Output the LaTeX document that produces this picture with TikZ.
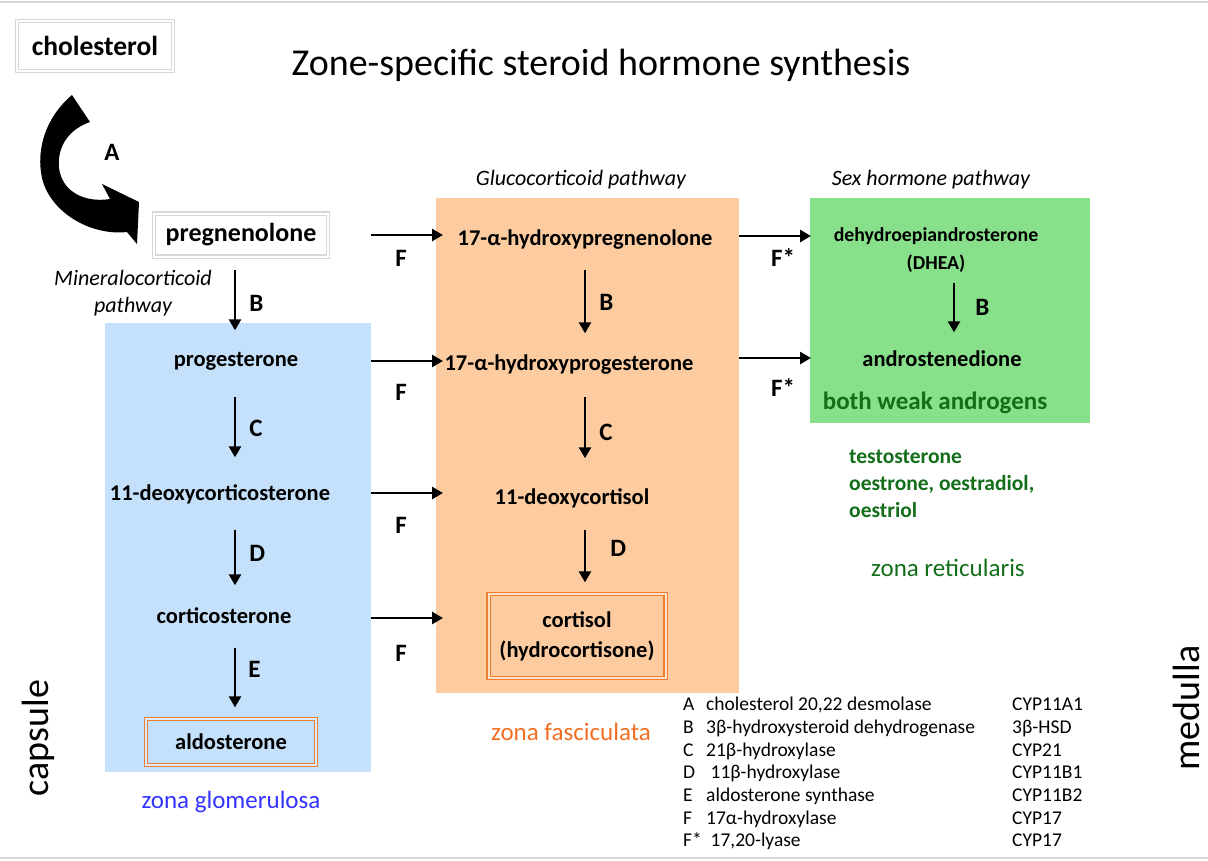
\documentclass[tikz,border=0pt]{standalone}
\usepackage{fontspec}
\setmainfont{Carlito}
\usetikzlibrary{positioning,arrows.meta}

\definecolor{glomblue}{RGB}{197,224,251}
\definecolor{fascorange}{RGB}{252,204,160}
\definecolor{retgreen}{RGB}{137,224,139}
\definecolor{boxorange}{RGB}{237,125,49}
\definecolor{labelorange}{RGB}{242,110,35}
\definecolor{labelblue}{RGB}{51,51,255}
\definecolor{darkgreen}{RGB}{18,110,24}
\definecolor{rulegrey}{RGB}{215,215,215}

\tikzset{
  compound/.style={font=\fontsize{22.5}{27}\selectfont\bfseries, inner sep=0pt,
    text height=16pt, text depth=5pt},
  enzyme/.style={font=\fontsize{25}{30}\selectfont\bfseries, inner sep=0pt},
  arr/.style={line width=2.6pt, -{Triangle[length=11pt,width=12pt]}},
  zone/.style={anchor=north west, inner sep=0pt},
  greybox/.style={draw=rulegrey, double=white, double distance=2pt, line width=1.2pt,
    font=\fontsize{26}{30}\selectfont\bfseries},
  orangebox/.style={draw=boxorange, double=white!40!glomblue, double distance=2pt,
    line width=1.3pt, font=\fontsize{22.5}{30}\selectfont\bfseries, align=center},
  pathway/.style={font=\fontsize{22}{27}\selectfont\itshape, align=center},
  zonelabel/.style={font=\fontsize{25}{30}\selectfont},
  sidelabel/.style={font=\fontsize{38}{44}\selectfont, rotate=90, anchor=south,
    inner sep=0pt, text depth=0pt},
  legend/.style={font=\fontsize{19.5}{22}\selectfont, anchor=base west, inner sep=0pt}
}

\begin{document}
\begin{tikzpicture}[x=1pt, y=-1pt]
  \useasboundingbox (0,0) rectangle (1208,860);
  \draw[rulegrey, line width=2pt] (0,1.5) -- (1208,1.5);
  \draw[rulegrey, line width=2pt] (0,857.5) -- (1208,857.5);

  % zones
  \node[zone, fill=glomblue, minimum width=266pt, minimum height=449pt] (zg) at (105,323) {};
  \node[zone, fill=fascorange, minimum width=303pt, minimum height=495pt] (zf) at (436,198) {};
  \node[zone, fill=retgreen, minimum width=280pt, minimum height=225pt] (zr) at (810,198) {};

  \node[font=\fontsize{38}{44}\selectfont] (title) at (601,65) {Zone-specific steroid hormone synthesis};

  % starting material
  \node[greybox, minimum width=156pt, minimum height=50pt,
    font=\fontsize{27.5}{30}\selectfont\bfseries] (chol) at (95,46) {cholesterol};
  \node[greybox, minimum width=174pt, minimum height=43pt] (preg) at (241,235) {pregnenolone};
  \fill (72,95) .. controls (45,118) and (36,150) .. (42,178)
    .. controls (50,212) and (90,236) .. (127,232) -- (137,244) -- (139,202) -- (102,184)
    -- (110,199) .. controls (85,203) and (62,192) .. (59,168)
    .. controls (57,145) and (70,129) .. (90,122) -- cycle;
  \node[enzyme] (a) at (112,152) {A};

  \node[pathway] (mineral) at (133,293) {Mineralocorticoid\\pathway};
  \node[pathway] (gluco) at (581,180) {Glucocorticoid pathway};
  \node[pathway] (sexhorm) at (931,180) {Sex hormone pathway};

  % mineralocorticoid column
  \node[compound] (prog) at (236,361) {progesterone};
  \node[compound] (docs) at (220,495) {11-deoxycorticosterone};
  \node[compound] (corticost) at (224,618) {corticosterone};
  \node[orangebox, minimum width=170pt, minimum height=46pt] (aldo) at (231,742) {aldosterone};

  % glucocorticoid column
  \node[compound] (ohpreg) at (585,240) {17-α-hydroxypregnenolone};
  \node[compound] (ohprog) at (569,365) {17-α-hydroxyprogesterone};
  \node[compound] (docol) at (572,499) {11-deoxycortisol};
  \node[orangebox, double=fascorange!60!white, minimum width=177pt, minimum height=84pt]
    (cortisol) at (577,636) {cortisol\\(hydrocortisone)};

  % sex hormone column
  \node[compound, text height=, text depth=, align=center,
    font=\fontsize{19.8}{28}\selectfont\bfseries] (dhea) at (936,250) {dehydroepiandrosterone\\(DHEA)};
  \node[compound] (andro) at (942,361) {androstenedione};
  \node[font=\fontsize{25}{30}\selectfont\bfseries, text=darkgreen] (weak) at (935,403) {both weak androgens};
  \node[anchor=north west, align=left, inner sep=0pt, text=darkgreen,
    font=\fontsize{21.5}{27}\selectfont\bfseries] (sexlist) at (849,450)
    {testosterone\\oestrone, oestradiol,\\oestriol};

  % zone names
  \node[zonelabel, text=labelblue] (glomlabel) at (231,802) {zona glomerulosa};
  \node[zonelabel, text=labelorange] (fasclabel) at (571,732) {zona fasciculata};
  \node[zonelabel, text=darkgreen] (retlabel) at (948,568) {zona reticularis};
  \node[sidelabel] (capsule) at (49,738) {capsule};
  \node[sidelabel] (medulla) at (1200,708) {medulla};

  % vertical steps
  \coordinate (lcol) at (235,0);
  \coordinate (mcol) at (585,0);
  \coordinate (rcol) at (954,0);
  \draw[arr, shorten <=13pt, shorten >=20pt] (lcol |- preg.south) -- node[enzyme, right=13pt] (b1) {B} (lcol |- prog.north);
  \draw[arr, shorten <=25pt, shorten >=27pt] (lcol |- prog.south) -- node[enzyme, right=13pt] (c1) {C} (lcol |- docs.north);
  \draw[arr, shorten <=24pt, shorten >=22pt] (lcol |- docs.south) -- node[enzyme, right=13pt, yshift=3pt] (d1) {D} (lcol |- corticost.north);
  \draw[arr, shorten <=19pt, shorten >=11pt] (lcol |- corticost.south) -- node[enzyme, right=12pt, yshift=4pt] (e1) {E} (lcol |- aldo.north);
  \draw[arr, shorten <=19pt, shorten >=21pt] (mcol |- ohpreg.south) -- node[enzyme, right=13pt] (b2) {B} (mcol |- ohprog.north);
  \draw[arr, shorten <=21pt, shorten >=30pt] (mcol |- ohprog.south) -- node[enzyme, right=13pt] (c2) {C} (mcol |- docol.north);
  \draw[arr, shorten <=20pt, shorten >=11pt] (mcol |- docol.south) -- node[enzyme, right=24pt, yshift=3pt] (d2) {D} (mcol |- cortisol.north);
  \draw[arr, shorten <=10pt, shorten >=18pt] (rcol |- dhea.south) -- node[enzyme, right=20pt, yshift=4pt] (b3) {B} (rcol |- andro.north);

  % 17-hydroxylase and lyase steps
  \coordinate (fend) at (443,0);
  \coordinate (lend) at (811,0);
  \draw[arr] (zg.east |- preg) -- (fend |- preg);
  \draw[arr] (zg.east |- prog) -- (fend |- prog);
  \draw[arr] ([yshift=2pt]zg.east |- docs) -- ([yshift=2pt]fend |- docs);
  \draw[arr] (zg.east |- corticost) -- (fend |- corticost);
  \draw[arr] ([yshift=4pt]zf.east |- ohpreg) -- ([yshift=4pt]lend |- ohpreg);
  \draw[arr] ([yshift=7pt]zf.east |- ohprog) -- ([yshift=7pt]lend |- ohprog);
  \node[enzyme] (f1) at (401,258) {F};
  \node[enzyme] (f2) at (401,392) {F};
  \node[enzyme] (f3) at (401,525) {F};
  \node[enzyme] (f4) at (401,653) {F};
  \node[enzyme] (fs1) at (783,258) {F*};
  \node[enzyme] (fs2) at (783,388) {F*};

  % key
  \foreach \ltr/\ename/\code [count=\i] in {A/{cholesterol 20,22 desmolase}/CYP11A1,
      B/{3β-hydroxysteroid dehydrogenase}/3β-HSD, C/{21β-hydroxylase}/CYP21,
      D/{\ 11β-hydroxylase}/CYP11B1, E/{aldosterone synthase}/CYP11B2,
      F/{17α-hydroxylase}/CYP17, F*/{\ 17,20-lyase}/CYP17} {
    \node[legend] (key\i) at (683,688+22.7*\i) {\ltr};
    \node[legend] (enz\i) at (706,688+22.7*\i) {\ename};
    \node[legend] (cyp\i) at (1012,688+22.7*\i) {\code};
  }
\end{tikzpicture}
\end{document}
